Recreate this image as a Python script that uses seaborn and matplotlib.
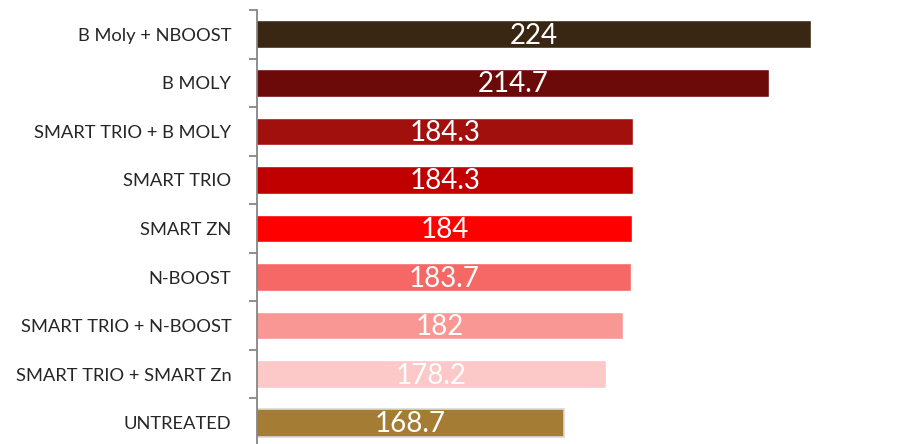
import seaborn as sns
import pandas as pd
import matplotlib.pyplot as plt

# treatments, top to bottom
treatments = ["B Moly + NBOOST", "B MOLY", "SMART TRIO + B MOLY", "SMART TRIO",
              "SMART ZN", "N-BOOST", "SMART TRIO + N-BOOST",
              "SMART TRIO + SMART Zn", "UNTREATED"]
values = [224, 214.7, 184.3, 184.3, 184, 183.7, 182, 178.2, 168.7]
value_labels = ["224", "214.7", "184.3", "184.3", "184", "183.7", "182", "178.2", "168.7"]
bar_colors = ["#3A2713", "#6B0A08", "#A2100E", "#C00000", "#FF0000",
              "#F56865", "#F99795", "#FCC9C8", "#A57C34"]

df = pd.DataFrame({"treatment": treatments, "value": values})

sns.set_style("white")
plt.rcParams['font.family'] = ['Lato', 'DejaVu Sans']

fig = plt.figure(figsize=(9.19, 4.44), dpi=100)
ax = fig.add_axes([257 / 919, -3 / 444, (900 - 257) / 919, 437 / 444])

sns.barplot(data=df, y="treatment", x="value", hue="treatment",
            palette=bar_colors, saturation=1, legend=False, width=0.57,
            ax=ax, orient="h")

# light grey outline on the untreated bar, like the original
ax.patches[-1].set_edgecolor("#D9D9D9")
ax.patches[-1].set_linewidth(1.2)

ax.set_xlim(100, 244)
ax.set_ylim(len(treatments) - 0.5, -0.5)

for i, (v, lab) in enumerate(zip(values, value_labels)):
    ax.text((100 + v) / 2, i + 0.03, lab, ha="center", va="center",
            color="white", fontsize=20)

ax.set_xlabel("")
ax.set_ylabel("")
ax.set_xticks([])
ax.set_yticks([i - 0.5 for i in range(len(treatments) + 1)], minor=False)
ax.set_yticklabels([])
ax.set_yticks(range(len(treatments)), minor=True)
ax.set_yticklabels(treatments, minor=True, fontsize=13.2)
ax.tick_params(axis="y", which="major", length=6, width=1.3, color="#868686", left=True)
ax.tick_params(axis="y", which="minor", length=0, pad=18.5)

for s in ["top", "right", "bottom"]:
    ax.spines[s].set_visible(False)
ax.spines["left"].set_color("#868686")
ax.spines["left"].set_linewidth(1.3)

plt.savefig("out.png", dpi=100)
